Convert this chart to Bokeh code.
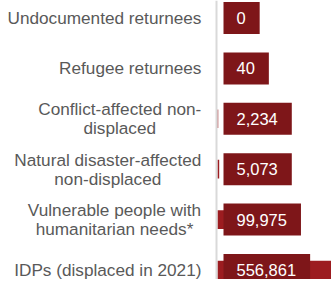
from bokeh.plotting import figure
from bokeh.models import ColumnDataSource, Range1d, Label, Span
from bokeh.core.properties import value
from bokeh.embed import file_html
from bokeh.resources import INLINE

categories = [
    "Undocumented returnees",
    "Refugee returnees",
    "Conflict-affected non-\ndisplaced",
    "Natural disaster-affected\nnon-displaced",
    "Vulnerable people with\nhumanitarian needs*",
    "IDPs (displaced in 2021)",
]
values = [0, 40, 2234, 5073, 99975, 556861]
value_labels = [f"{v:,}" for v in values]

ys = list(range(len(categories)))
src = ColumnDataSource(dict(y=ys, value=values, label=value_labels))

W, H = 331, 279
AXIS_PX = 216          # where the value axis sits (px from left)
UNITS_PER_PX = 2985.0  # value scale
ROW_PX = 50.4

x_start = -(AXIS_PX + 1) * UNITS_PER_PX
x_end = (W - AXIS_PX - 1) * UNITS_PER_PX

p = figure(width=W, height=H, output_backend="svg", toolbar_location=None,
           x_range=Range1d(x_start, x_end), y_range=Range1d(5.189, -0.347),
           min_border_left=0, min_border_right=0, min_border_top=0, min_border_bottom=0)
p.extra_x_ranges = {"px": Range1d(-AXIS_PX, W - AXIS_PX)}
p.outline_line_color = None
p.background_fill_color = "white"
p.border_fill_color = "white"
p.grid.visible = False
p.xaxis.visible = False
p.yaxis.visible = False

# value axis line
p.add_layout(Span(location=-UNITS_PER_PX, dimension="height",
                  line_color="#d9d9d9", line_width=2))

p.hbar(y="y", left=0, right="value", height=0.37, source=src,
       fill_color="#9C1C20", line_color=None)

p.text(x=0, y="y", text="label", source=src, x_offset=6, y_offset=0,
       text_baseline="middle", text_align="left",
       text_color="white", text_font=value("Liberation Sans"), text_font_size="16.5px",
       background_fill_color="#7E1619", border_line_color=None,
       padding=dict(left=13, right=14, top=10, bottom=10))

# category labels: block right-aligned, lines centred within the block
FONT_PX = 17.2
LINE_PX = 19
GAP = 15
AW = {"C": 722, "o": 556, "n": 556, "f": 278, "l": 222, "i": 222, "c": 500, "t": 278,
      "-": 333, "a": 556, "e": 556, "d": 556, "s": 500, "p": 556, "N": 722, "u": 556,
      "r": 333, "V": 667, "b": 556, "h": 556, "w": 722, "m": 833, " ": 278, "*": 389,
      "U": 722, "R": 722, "g": 556, "I": 278, "D": 722, "P": 667, "(": 333, ")": 333,
      "0": 556, "1": 556, "2": 556}


def tw(s):
    return sum(AW.get(ch, 556) for ch in s) / 1000 * FONT_PX


for yi, cat in zip(ys, categories):
    lines = cat.split("\n")
    bw = max(tw(l) for l in lines)
    cx = -GAP - bw / 2
    n = len(lines)
    for j, line in enumerate(lines):
        dy = (j - (n - 1) / 2) * LINE_PX / ROW_PX
        p.add_layout(Label(x=cx, y=yi + dy, x_range_name="px", text=line,
                           text_align="center", text_baseline="middle",
                           text_font="Liberation Sans", text_font_size=f"{FONT_PX}px",
                           text_color="#595959"))

open("out.html", "w").write(file_html(p, INLINE))
